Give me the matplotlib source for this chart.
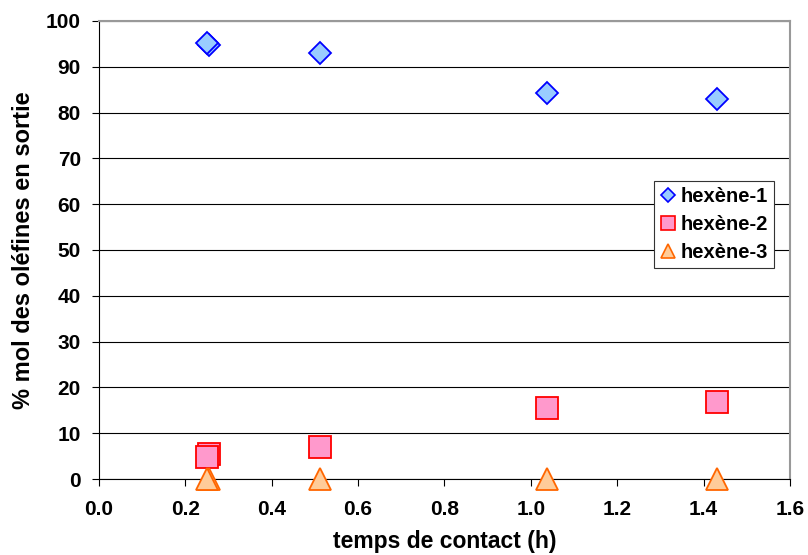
import numpy as np
import matplotlib.pyplot as plt
from matplotlib.lines import Line2D

plt.rcParams['font.family'] = ['Liberation Sans', 'DejaVu Sans']
plt.rcParams['font.weight'] = 'bold'

# temps de contact (h) -- first point measured twice
temps = [0.255, 0.250, 0.512, 1.037, 1.430]
hexene1 = [94.8, 95.3, 93.0, 84.3, 83.0]
hexene2 = [5.4, 4.8, 6.9, 15.6, 16.9]
hexene3 = [0.0, 0.0, 0.0, 0.0, 0.0]
labels = ['hexène-1', 'hexène-2', 'hexène-3']

styles = [
    dict(marker='D', ms=11.2, mfc='#99CCFF', mec='#0000FF'),
    dict(marker='s', ms=15.5, mfc='#FF99CC', mec='#FF0000'),
    dict(marker='^', ms=15.5, mfc='#FFCC99', mec='#FF6600'),
]
legend_ms = [6.8, 9.5, 9.5]

fig = plt.figure(figsize=(8.08, 5.55), dpi=100)
ax = fig.add_axes([0.1225, 0.1369, 0.8552, 0.8253])

for y, st in zip([hexene1, hexene2, hexene3], styles):
    for xi, yi in zip(temps, y):
        ax.plot([xi], [yi], linestyle='none', mew=1.3, clip_on=False, zorder=3, **st)

ax.set_xlim(0, 1.6)
ax.set_ylim(0, 100)
ax.set_xticks(np.arange(0, 1.61, 0.2))
ax.set_yticks(np.arange(0, 101, 10))
ax.xaxis.set_major_formatter(plt.FormatStrFormatter('%.1f'))
ax.yaxis.grid(True, color='black', lw=0.8)
ax.set_axisbelow(True)
ax.tick_params(direction='out', length=5, width=0.8, labelsize=15, pad=8)
ax.tick_params(axis='x', pad=10)

for s in ['top', 'right']:
    ax.spines[s].set_color('#999999')
    ax.spines[s].set_linewidth(1.5)
for s in ['left', 'bottom']:
    ax.spines[s].set_color('black')
    ax.spines[s].set_linewidth(0.8)

ax.set_xlabel('temps de contact (h)', fontsize=16.5, fontweight='bold', labelpad=8)
ax.set_ylabel('% mol des oléfines en sortie', fontsize=17, fontweight='bold', labelpad=8)

handles = [Line2D([], [], linestyle='none', mew=1.2, **dict(st, ms=m))
           for st, m in zip(styles, legend_ms)]
leg = ax.legend(handles, labels, loc='upper left', bbox_to_anchor=(0.803, 0.651),
                fontsize=14.5, frameon=True, fancybox=False, framealpha=1,
                handlelength=0.85, handletextpad=0.2, borderpad=0.3,
                labelspacing=0.45, borderaxespad=0)
leg.get_frame().set_edgecolor('#333333')
leg.get_frame().set_linewidth(0.8)

fig.savefig('out.png', dpi=100)
